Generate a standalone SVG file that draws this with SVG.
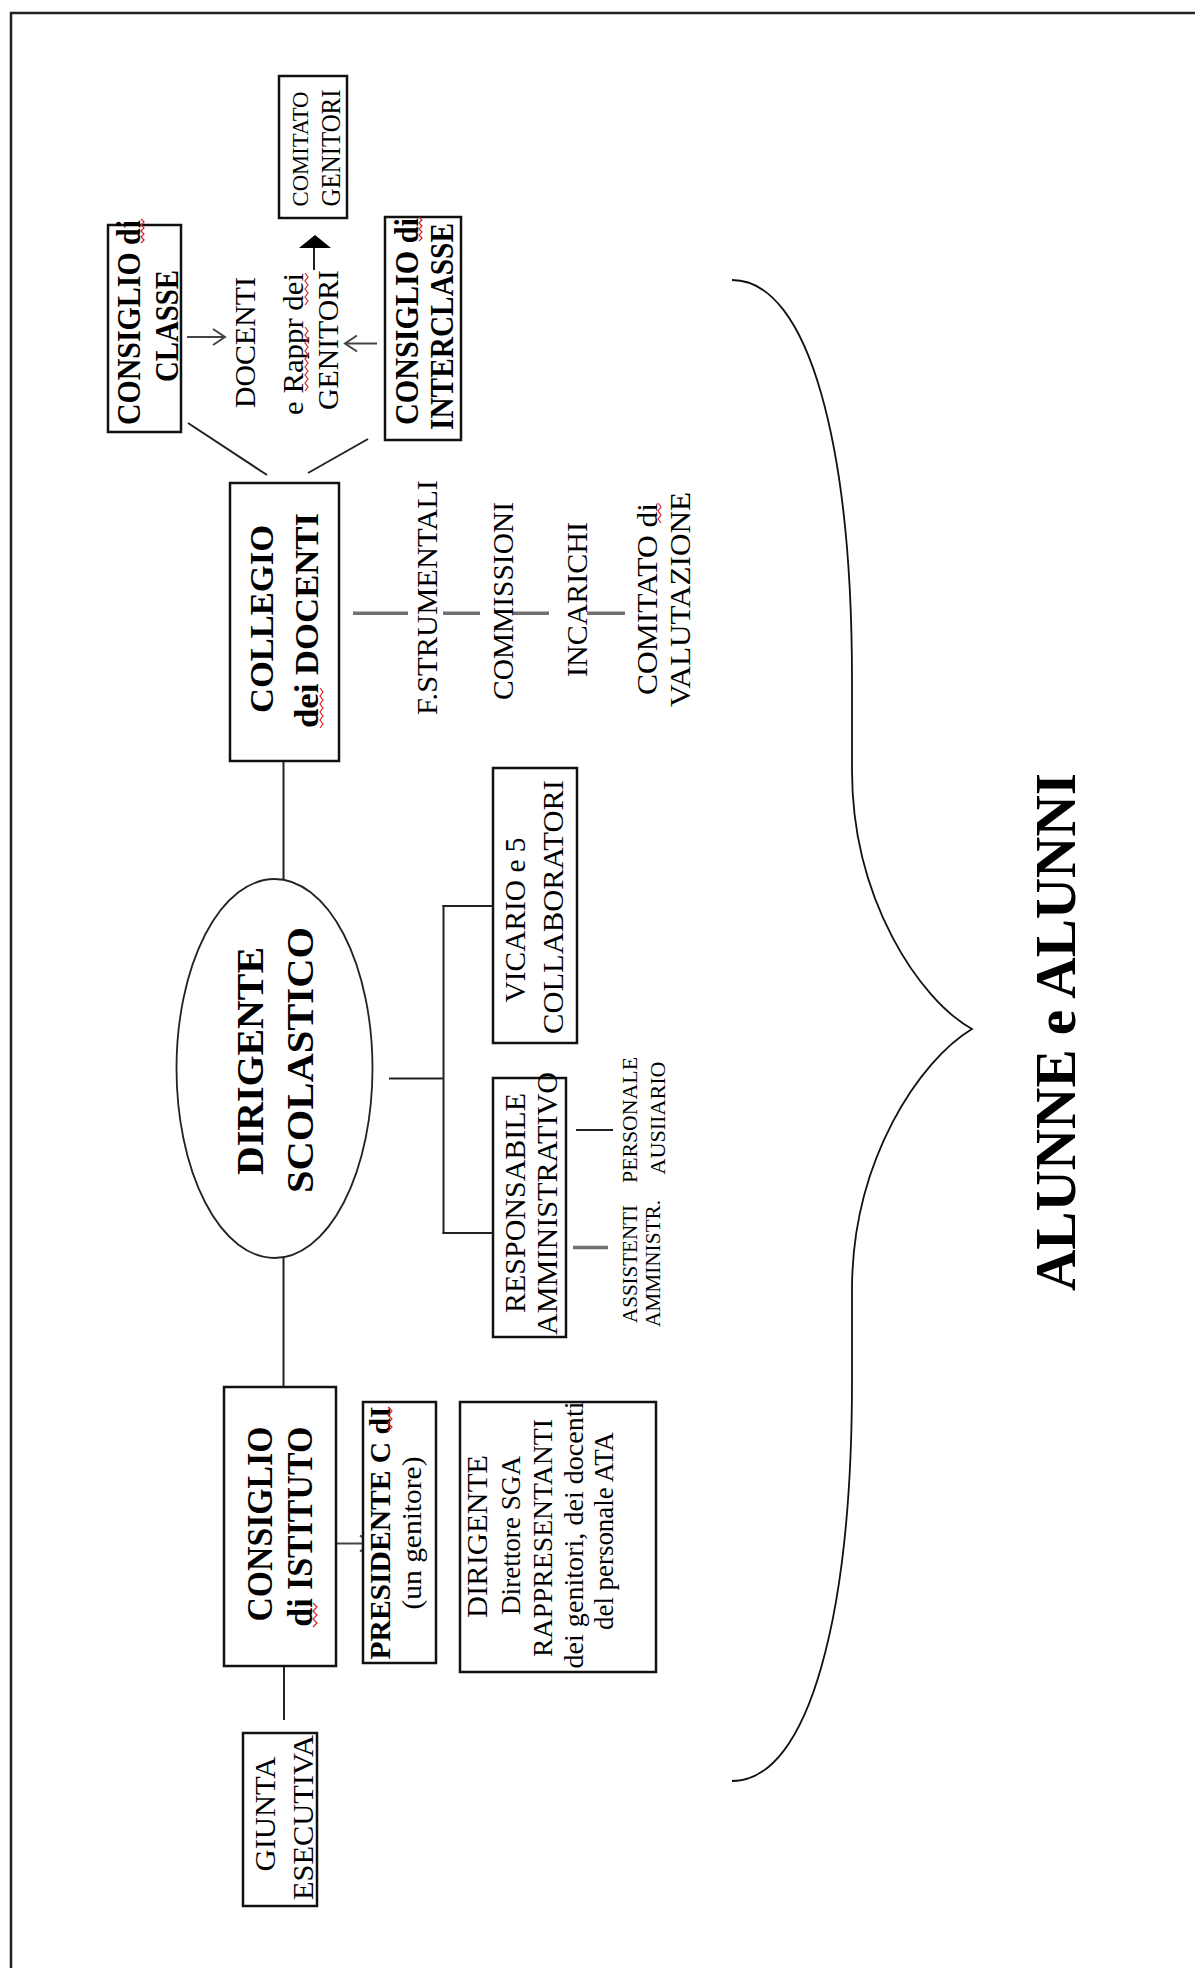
<svg xmlns="http://www.w3.org/2000/svg" width="1195" height="1968" viewBox="0 0 1195 1968">
<style>
.t{font-family:"Liberation Serif","Times New Roman",serif;fill:#000;text-anchor:middle}
.b{font-weight:bold}
.box{fill:#fff;stroke:#111;stroke-width:2.5}
.ln{fill:none;stroke:#222;stroke-width:2}
.gr{fill:none;stroke:#707070;stroke-width:3.5}
.ar{fill:none;stroke:#444;stroke-width:2}
.sq{fill:none;stroke:#e02020;stroke-width:1.2}
</style>
<rect width="1195" height="1968" fill="#fff"/>
<path d="M11 1968 V13 H1195" fill="none" stroke="#222" stroke-width="2.5"/>

<g id="connectors">
  <line class="ln" x1="188" y1="423" x2="267" y2="475"/>
  <line class="ln" x1="368" y1="439" x2="308" y2="473"/>
  <line class="ar" x1="187" y1="337" x2="225" y2="337"/>
  <polyline class="ar" points="213,329 225,337 213,345"/>
  <line class="ar" x1="377" y1="343.5" x2="345" y2="343.5"/>
  <polyline class="ar" points="357,335.5 345,343.5 357,351.5"/>
  <line class="ln" x1="314" y1="270" x2="314" y2="247"/>
  <polygon points="299,248 331,248 315,235" fill="#000"/>
  <line class="ln" x1="283.5" y1="761" x2="283.5" y2="880"/>
  <line class="gr" x1="353" y1="613.3" x2="408" y2="613.3"/>
  <line class="gr" x1="443" y1="613.3" x2="480" y2="613.3"/>
  <line class="gr" x1="513" y1="613.3" x2="549" y2="613.3"/>
  <line class="gr" x1="587" y1="613.3" x2="625" y2="613.3"/>
  <line class="ln" x1="389" y1="1078.5" x2="443.5" y2="1078.5"/>
  <line class="ln" x1="443.5" y1="905" x2="443.5" y2="1234"/>
  <line class="ln" x1="442.5" y1="906" x2="495" y2="906"/>
  <line class="ln" x1="442.5" y1="1233" x2="497" y2="1233"/>
  <line class="ln" x1="576" y1="1130" x2="613" y2="1130"/>
  <line class="gr" x1="573" y1="1247.5" x2="608" y2="1247.5"/>
  <line class="ln" x1="283.5" y1="1258" x2="283.5" y2="1387"/>
  <line class="ar" x1="336" y1="1543.5" x2="371" y2="1543.5"/>
  <polyline class="ar" points="360,1535.5 371,1543.5 360,1551.5"/>
  <line class="ln" x1="284" y1="1666" x2="284" y2="1720"/>
  <path d="M732 280 C810 280 852 450 852 680 L852 770 C852 900 920 1000 972 1029 C920 1060 852 1160 852 1290 L852 1381 C852 1611 810 1781 732 1781" fill="none" stroke="#111" stroke-width="1.8"/>
</g>

<g id="comitato-genitori">
  <rect class="box" x="279" y="76" width="68" height="142"/>
  <text class="t" font-size="24" textLength="115" lengthAdjust="spacingAndGlyphs" transform="translate(308,149) rotate(-90)">COMITATO</text>
  <text class="t" font-size="28" textLength="117" lengthAdjust="spacingAndGlyphs" transform="translate(340,148) rotate(-90)">GENITORI</text>
</g>

<g id="consiglio-classe">
  <rect class="box" x="108" y="225" width="73" height="207"/>
  <text class="t b" font-size="34" textLength="205" lengthAdjust="spacingAndGlyphs" transform="translate(140,322.5) rotate(-90)">CONSIGLIO di</text>
  <text class="t b" font-size="34" textLength="112" lengthAdjust="spacingAndGlyphs" transform="translate(178,326) rotate(-90)">CLASSE</text>
  <polyline class="sq" points="141,219 144,222 141,225 144,228 141,231 144,234 141,237 144,240 141,243"/>
</g>

<g id="docenti-genitori">
  <text class="t" font-size="30" textLength="131" lengthAdjust="spacingAndGlyphs" transform="translate(255,342.5) rotate(-90)">DOCENTI</text>
  <text class="t" font-size="30" textLength="142" lengthAdjust="spacingAndGlyphs" transform="translate(303,344) rotate(-90)">e Rappr dei</text>
  <text class="t" font-size="30" textLength="140" lengthAdjust="spacingAndGlyphs" transform="translate(338,340) rotate(-90)">GENITORI</text>
  <polyline class="sq" points="305,327 308,331 305,335 308,339 305,343 308,347 305,351 308,355 305,359 308,363 305,367 308,371 305,375 308,379 305,383 308,387 305,391"/>
  <polyline class="sq" points="305,273 308,277 305,281 308,285 305,289 308,293 305,297 308,301 305,305"/>
</g>

<g id="consiglio-interclasse">
  <rect class="box" x="385" y="217" width="76" height="223"/>
  <text class="t b" font-size="34" textLength="207" lengthAdjust="spacingAndGlyphs" transform="translate(418,321.5) rotate(-90)">CONSIGLIO di</text>
  <text class="t b" font-size="34" textLength="207" lengthAdjust="spacingAndGlyphs" transform="translate(453,326.5) rotate(-90)">INTERCLASSE</text>
  <polyline class="sq" points="419,217 422,220 419,223 422,226 419,229 422,232 419,235 422,238 419,241"/>
</g>

<g id="collegio-docenti">
  <rect class="box" x="230" y="483" width="109" height="278"/>
  <text class="t b" font-size="33" textLength="188" lengthAdjust="spacingAndGlyphs" transform="translate(273,619) rotate(-90)">COLLEGIO</text>
  <text class="t b" font-size="33" textLength="215" lengthAdjust="spacingAndGlyphs" transform="translate(318,620.5) rotate(-90)">dei DOCENTI</text>
  <polyline class="sq" points="320,688 323,692 320,696 323,700 320,704 323,708 320,712 323,716 320,720 323,724 320,728"/>
</g>

<g id="collegio-articolazioni">
  <text class="t" font-size="30" textLength="235" lengthAdjust="spacingAndGlyphs" transform="translate(437,597.5) rotate(-90)">F.STRUMENTALI</text>
  <text class="t" font-size="30" textLength="198" lengthAdjust="spacingAndGlyphs" transform="translate(513,601) rotate(-90)">COMMISSIONI</text>
  <text class="t" font-size="30" textLength="155" lengthAdjust="spacingAndGlyphs" transform="translate(587,599.5) rotate(-90)">INCARICHI</text>
  <text class="t" font-size="30" textLength="192" lengthAdjust="spacingAndGlyphs" transform="translate(657,599) rotate(-90)">COMITATO di</text>
  <text class="t" font-size="30" textLength="215" lengthAdjust="spacingAndGlyphs" transform="translate(690,599.5) rotate(-90)">VALUTAZIONE</text>
  <polyline class="sq" points="658,503 661,507 658,511 661,515 658,519 661,523"/>
</g>

<g id="dirigente-scolastico">
  <ellipse cx="274.5" cy="1068.5" rx="98" ry="189.5" fill="#fff" stroke="#222" stroke-width="1.8"/>
  <text class="t b" font-size="38" textLength="228" lengthAdjust="spacingAndGlyphs" transform="translate(263,1061) rotate(-90)">DIRIGENTE</text>
  <text class="t b" font-size="38" textLength="266" lengthAdjust="spacingAndGlyphs" transform="translate(313,1060) rotate(-90)">SCOLASTICO</text>
</g>

<g id="vicario">
  <rect class="box" x="493" y="768" width="84" height="275"/>
  <text class="t" font-size="30" textLength="165" lengthAdjust="spacingAndGlyphs" transform="translate(525,920) rotate(-90)">VICARIO e 5</text>
  <text class="t" font-size="30" textLength="254" lengthAdjust="spacingAndGlyphs" transform="translate(563,907) rotate(-90)">COLLABORATORI</text>
</g>

<g id="responsabile-amministrativo">
  <rect class="box" x="493" y="1078" width="73" height="259"/>
  <text class="t" font-size="30" textLength="220" lengthAdjust="spacingAndGlyphs" transform="translate(525,1203) rotate(-90)">RESPONSABILE</text>
  <text class="t" font-size="30" textLength="263" lengthAdjust="spacingAndGlyphs" transform="translate(557,1203.5) rotate(-90)">AMMINISTRATIVO</text>
</g>

<g id="personale-ausiliario">
  <text class="t" font-size="22" textLength="126" lengthAdjust="spacingAndGlyphs" transform="translate(637,1120) rotate(-90)">PERSONALE</text>
  <text class="t" font-size="22" textLength="113" lengthAdjust="spacingAndGlyphs" transform="translate(665,1118) rotate(-90)">AUSIIARIO</text>
</g>

<g id="assistenti-amministrativi">
  <text class="t" font-size="22" textLength="118" lengthAdjust="spacingAndGlyphs" transform="translate(637,1264) rotate(-90)">ASSISTENTI</text>
  <text class="t" font-size="22" textLength="127" lengthAdjust="spacingAndGlyphs" transform="translate(660,1263.5) rotate(-90)">AMMINISTR.</text>
</g>

<g id="consiglio-istituto">
  <rect class="box" x="224" y="1387" width="112" height="279"/>
  <text class="t b" font-size="35" textLength="195" lengthAdjust="spacingAndGlyphs" transform="translate(272,1524) rotate(-90)">CONSIGLIO</text>
  <text class="t b" font-size="35" textLength="200" lengthAdjust="spacingAndGlyphs" transform="translate(312,1526.7) rotate(-90)">di ISTITUTO</text>
  <polyline class="sq" points="313,1603 317,1607 313,1611 317,1615 313,1619 317,1623 313,1627"/>
</g>

<g id="presidente">
  <rect class="box" x="363" y="1402" width="73" height="261"/>
  <text class="t b" font-size="30" textLength="253" lengthAdjust="spacingAndGlyphs" transform="translate(390,1533) rotate(-90)">PRESIDENTE  C dI</text>
  <text class="t" font-size="27" textLength="153" lengthAdjust="spacingAndGlyphs" transform="translate(421,1533) rotate(-90)">(un genitore)</text>
  <polyline class="sq" points="388,1407 392,1411 388,1415 392,1419 388,1423 392,1427 388,1431"/>
</g>

<g id="componenti-consiglio">
  <rect class="box" x="460" y="1402" width="196" height="270"/>
  <text class="t" font-size="30" textLength="163" lengthAdjust="spacingAndGlyphs" transform="translate(487,1536.5) rotate(-90)">DIRIGENTE</text>
  <text class="t" font-size="27" textLength="159" lengthAdjust="spacingAndGlyphs" transform="translate(520,1535.5) rotate(-90)">Direttore SGA</text>
  <text class="t" font-size="27" textLength="238" lengthAdjust="spacingAndGlyphs" transform="translate(552,1538) rotate(-90)">RAPPRESENTANTI</text>
  <text class="t" font-size="27" textLength="267" lengthAdjust="spacingAndGlyphs" transform="translate(583,1535) rotate(-90)">dei genitori, dei  docenti</text>
  <text class="t" font-size="27" textLength="198" lengthAdjust="spacingAndGlyphs" transform="translate(613,1531) rotate(-90)">del personale ATA</text>
</g>

<g id="giunta-esecutiva">
  <rect class="box" x="243" y="1733" width="74" height="173"/>
  <text class="t" font-size="30" textLength="115" lengthAdjust="spacingAndGlyphs" transform="translate(275,1814) rotate(-90)">GIUNTA</text>
  <text class="t" font-size="30" textLength="165" lengthAdjust="spacingAndGlyphs" transform="translate(313,1817.5) rotate(-90)">ESECUTIVA</text>
</g>

<g id="alunni">
  <text class="t b" font-size="58" textLength="518" lengthAdjust="spacingAndGlyphs" transform="translate(1075,1032) rotate(-90)">ALUNNE e ALUNNI</text>
</g>
</svg>
